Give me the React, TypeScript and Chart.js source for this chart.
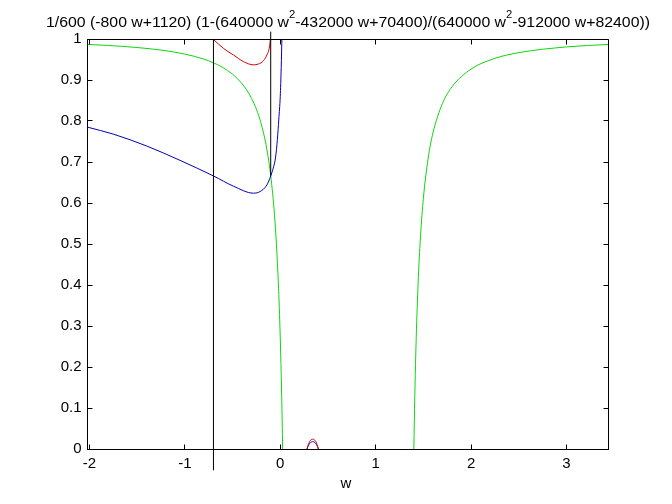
import React, { useEffect, useRef } from 'react';
import { Chart, registerables } from 'chart.js';

Chart.register(...registerables);

// ---- axis ticks ----
const xTicks = [-2, -1, 0, 1, 2, 3];
const xTickLabels = ['-2', '-1', '0', '1', '2', '3'];
const yTicks = [0, 0.1, 0.2, 0.3, 0.4, 0.5, 0.6, 0.7, 0.8, 0.9, 1];
const yTickLabels = ['0', '0.1', '0.2', '0.3', '0.4', '0.5', '0.6', '0.7', '0.8', '0.9', '1'];
const xMin = -2.02;
const xMax = 3.44;
const yMin = 0;
const yMax = 1;

// ---- texts ----
const titleParts: [string, boolean][] = [
  ['1/600 (-800 w+1120) (1-(640000 w', false],
  ['2', true],
  ['-432000 w+70400)/(640000 w', false],
  ['2', true],
  ['-912000 w+82400))', false],
];
const xLabel = 'w';

// ---- green curve (left branch) ----
const greenLeftW = [-2.02, -1.8, -1.5, -1.25, -1.0, -0.8, -0.7, -0.6, -0.5, -0.4, -0.35, -0.3, -0.25, -0.2, -0.15, -0.12, -0.1, -0.08, -0.06, -0.04, -0.02, -0.01, 0, 0.005, 0.01, 0.015, 0.02, 0.025];
const greenLeftV = [0.9868, 0.9842, 0.9792, 0.973, 0.9633, 0.9509, 0.942, 0.9302, 0.9141, 0.8908, 0.875, 0.8549, 0.8288, 0.7934, 0.7432, 0.7016, 0.6667, 0.6237, 0.5697, 0.4996, 0.4053, 0.3449, 0.2718, 0.2293, 0.1819, 0.1287, 0.0686, 0];

// ---- green curve (right branch) ----
const greenRightW = [1.4, 1.41, 1.42, 1.43, 1.45, 1.47, 1.5, 1.55, 1.6, 1.7, 1.8, 2.0, 2.25, 2.5, 3.0, 3.44];
const greenRightV = [0, 0.1287, 0.2293, 0.3102, 0.4318, 0.519, 0.6114, 0.7093, 0.7706, 0.8428, 0.8834, 0.9267, 0.9528, 0.9667, 0.9807, 0.9868];

// ---- blue curve ----
const blueW = [-2.02, -1.75, -1.4, -1.05, -0.7, -0.49, -0.281, -0.211, -0.14, -0.1, -0.07, -0.05, -0.03, -0.015, 0, 0.01, 0.018];
const blueV = [0.785, 0.768, 0.739, 0.704, 0.666, 0.641, 0.624, 0.628, 0.644, 0.666, 0.688, 0.71, 0.755, 0.805, 0.86, 0.93, 1.01];
const blueBumpW = [0.28, 0.29, 0.31, 0.34, 0.37, 0.39, 0.40];
const blueBumpV = [0, 0.006, 0.014, 0.018, 0.014, 0.006, 0];

// ---- red curve ----
const redW = [-0.7, -0.595, -0.49, -0.386, -0.281, -0.229, -0.176, -0.14, -0.116, -0.106, -0.103];
const redV = [0.999, 0.977, 0.961, 0.945, 0.937, 0.939, 0.947, 0.961, 0.977, 0.994, 1.0];
const redBumpW = [0.28, 0.29, 0.31, 0.34, 0.37, 0.39, 0.40];
const redBumpV = [0, 0.008, 0.019, 0.024, 0.019, 0.008, 0];

// ---- black vertical lines ----
const vLine1W = [-0.7, -0.7];
const vLine1V = [-0.052, 1.0];
const vLine2W = [-0.1, -0.1];
const vLine2V = [0.667, 1.018];

const FF = "'Liberation Sans', Arial, Helvetica, sans-serif";
const GREEN = '#10d410';
const BLUE = '#0000b8';
const RED = '#d80000';

const pts = (xs: number[], ys: number[]) => xs.map((x, i) => ({ x, y: ys[i] }));

const matlabPlugin = {
  id: 'matlabBox',
  afterDraw(chart: any) {
    const { ctx, chartArea: a, scales } = chart;
    const L = Math.round(a.left - 0.5) + 0.5;
    const R = Math.round(a.right - 0.5) + 0.5;
    const T = Math.round(a.top - 0.5) + 0.5;
    const B = Math.round(a.bottom - 0.5) + 0.5;
    ctx.save();
    ctx.strokeStyle = '#000';
    ctx.lineWidth = 1;
    ctx.beginPath();
    ctx.moveTo(L, T); ctx.lineTo(R, T); ctx.lineTo(R, B);
    const tl = 5;
    for (const v of xTicks) {
      const p = Math.round(scales.x.getPixelForValue(v) - 0.5) + 0.5;
      ctx.moveTo(p, B); ctx.lineTo(p, B - tl);
      ctx.moveTo(p, T); ctx.lineTo(p, T + tl);
    }
    for (const v of yTicks) {
      const p = Math.round(scales.y.getPixelForValue(v) - 0.5) + 0.5;
      ctx.moveTo(L, p); ctx.lineTo(L + tl, p);
      ctx.moveTo(R, p); ctx.lineTo(R - tl, p);
    }
    ctx.stroke();

    // title with superscripts
    const mainFont = `15.5px ${FF}`;
    const supFont = `11px ${FF}`;
    let total = 0;
    const widths: number[] = [];
    for (const [t, sup] of titleParts) {
      ctx.font = sup ? supFont : mainFont;
      const w = ctx.measureText(t).width;
      widths.push(w);
      total += w;
    }
    const target = 604;
    const sx = target / total;
    const cx = (a.left + a.right) / 2;
    ctx.fillStyle = '#000';
    ctx.textBaseline = 'alphabetic';
    ctx.textAlign = 'left';
    ctx.translate(cx - target / 2, 0);
    ctx.scale(sx, 1);
    let x = 0;
    titleParts.forEach(([t, sup], i) => {
      ctx.font = sup ? supFont : mainFont;
      ctx.fillText(t, x, sup ? 17.5 : 26.5);
      x += widths[i];
    });
    ctx.restore();

    // x label
    ctx.save();
    ctx.fillStyle = '#000';
    ctx.font = `15px ${FF}`;
    ctx.textAlign = 'center';
    ctx.textBaseline = 'alphabetic';
    ctx.fillText(xLabel, cx - 2, 488);
    ctx.restore();
  },
};

export default function App() {
  const ref = useRef<HTMLCanvasElement | null>(null);
  useEffect(() => {
    document.body.style.margin = '0';
    const canvas = ref.current;
    if (!canvas) return;
    const line = (data: any[], color: string, extra: any = {}) => ({
      data,
      borderColor: color,
      backgroundColor: color,
      borderWidth: 1,
      pointRadius: 0,
      showLine: true,
      fill: false,
      ...extra,
    });
    const chart = new Chart(canvas, {
      type: 'scatter',
      data: {
        datasets: [
          line(pts(vLine1W, vLine1V), '#000', { clip: false, tension: 0 }),
          line(pts(vLine2W, vLine2V), '#000', { clip: false, tension: 0 }),
          line(pts(redW, redV), RED, { cubicInterpolationMode: 'monotone' }),
          line(pts(redBumpW, redBumpV), RED, { cubicInterpolationMode: 'monotone' }),
          line(pts(blueW, blueV), BLUE, { cubicInterpolationMode: 'monotone' }),
          line(pts(blueBumpW, blueBumpV), BLUE, { cubicInterpolationMode: 'monotone' }),
          line(pts(greenLeftW, greenLeftV), GREEN, { cubicInterpolationMode: 'monotone' }),
          line(pts(greenRightW, greenRightV), GREEN, { cubicInterpolationMode: 'monotone' }),
        ],
      },
      options: {
        responsive: false,
        animation: false,
        events: [],
        layout: { padding: { top: 39, right: 63.5, left: 0, bottom: 0 } },
        plugins: {
          legend: { display: false },
          title: { display: false },
          tooltip: { enabled: false },
        },
        scales: {
          x: {
            type: 'linear',
            min: xMin,
            max: xMax,
            grid: { display: false, drawTicks: false },
            border: { display: true, color: '#000', width: 1 },
            ticks: {
              color: '#000',
              font: { family: FF, size: 15 },
              padding: 6,
              maxRotation: 0,
              autoSkip: false,
              callback: (v: any) => {
                const i = xTicks.indexOf(Number(v));
                return i >= 0 ? xTickLabels[i] : '';
              },
            },
            afterBuildTicks: (s: any) => { s.ticks = xTicks.map((v) => ({ value: v })); },
            afterFit: (s: any) => { s.height = 55; },
          },
          y: {
            type: 'linear',
            min: yMin,
            max: yMax,
            grid: { display: false, drawTicks: false },
            border: { display: true, color: '#000', width: 1 },
            ticks: {
              color: '#000',
              font: { family: FF, size: 15 },
              padding: 6,
              autoSkip: false,
              callback: (v: any) => {
                const i = yTicks.findIndex((t) => Math.abs(t - Number(v)) < 1e-9);
                return i >= 0 ? yTickLabels[i] : '';
              },
            },
            afterBuildTicks: (s: any) => { s.ticks = yTicks.map((v) => ({ value: v })); },
            afterFit: (s: any) => { s.width = 87.5; },
          },
        },
      },
      plugins: [matlabPlugin],
    });
    return () => chart.destroy();
  }, []);
  return <canvas ref={ref} width={672} height={504} style={{ display: 'block' }} />;
}
